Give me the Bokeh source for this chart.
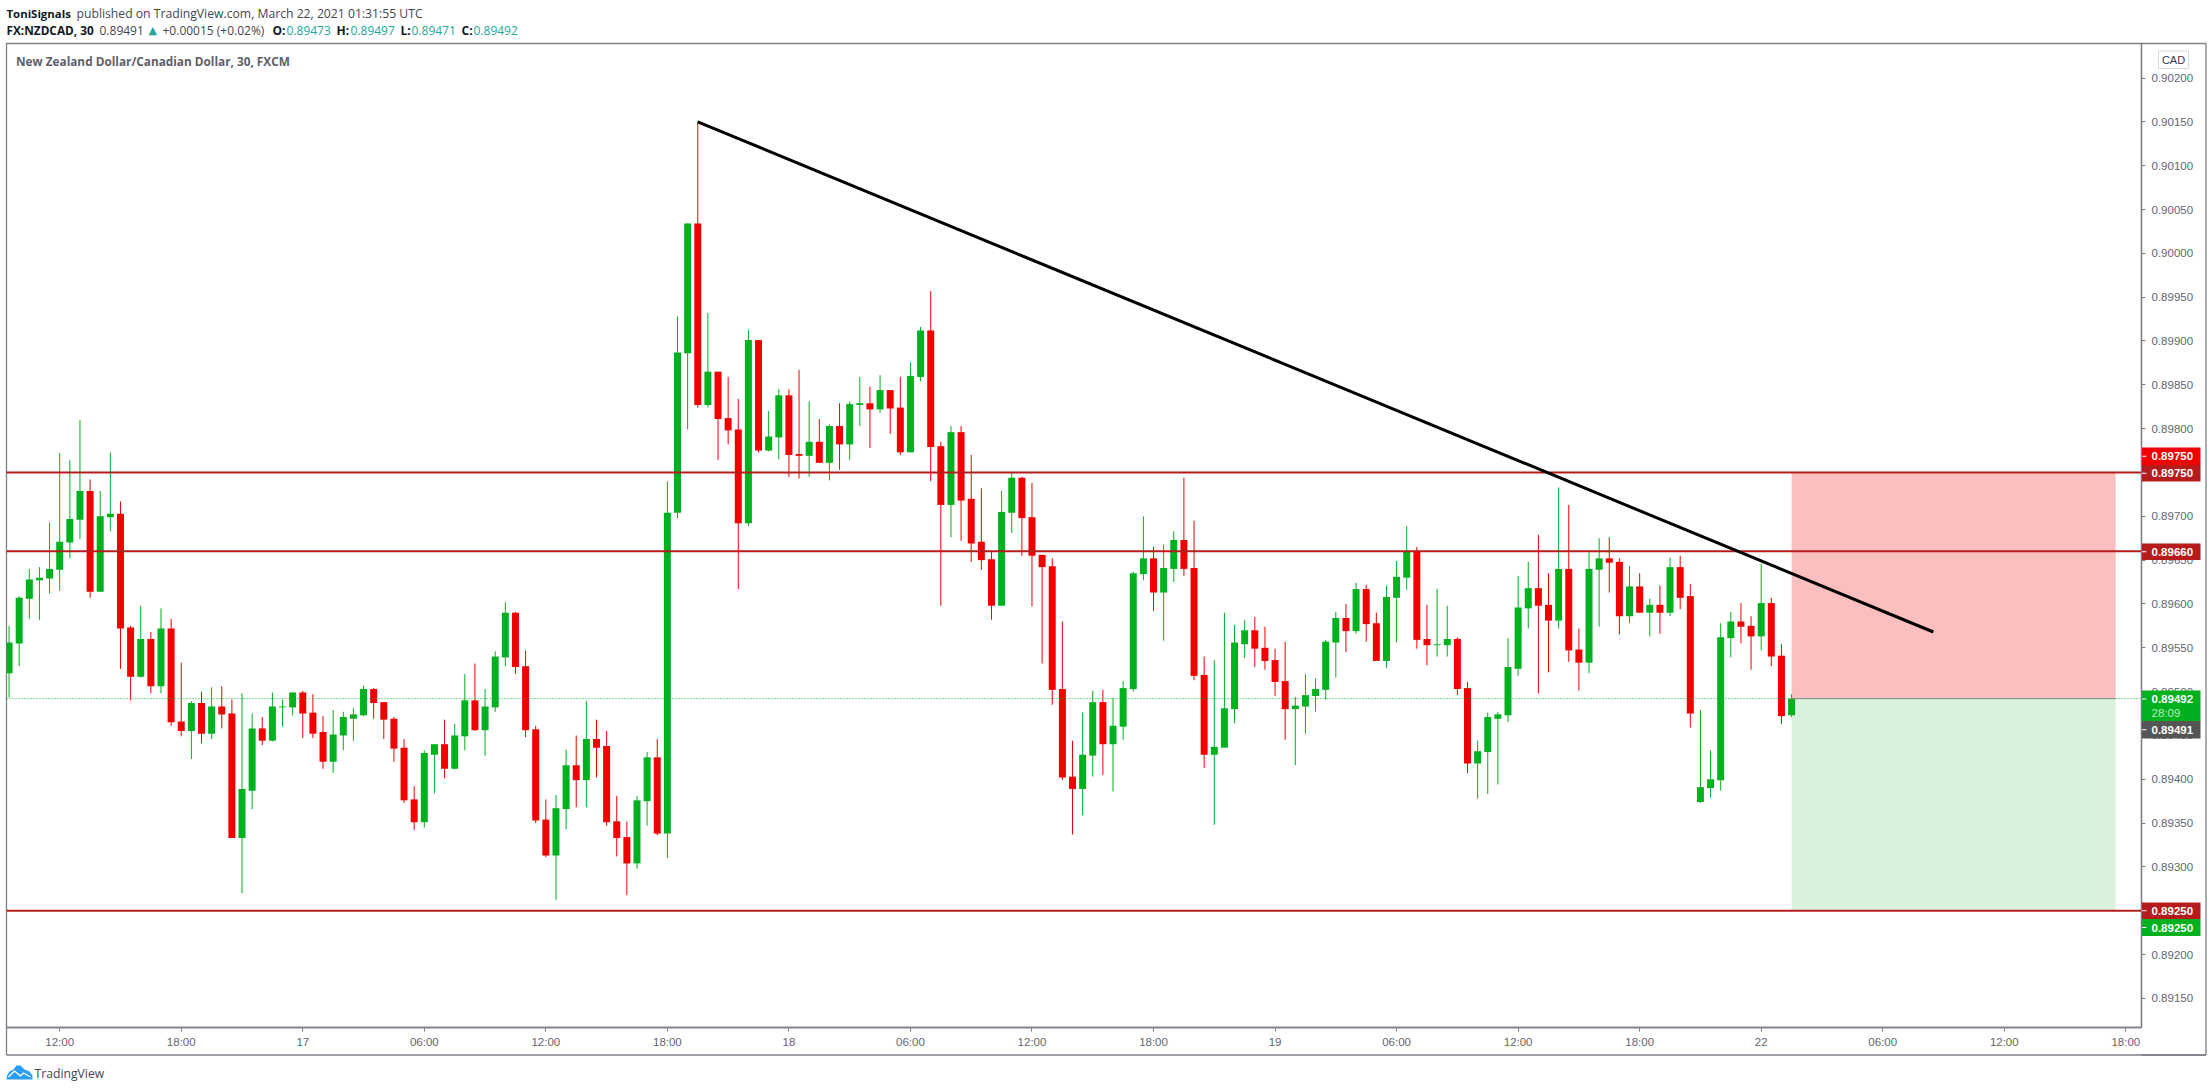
from bokeh.plotting import figure
from bokeh.layouts import column
from bokeh.models import (Range1d, LinearAxis, FixedTicker, NumeralTickFormatter, ColumnDataSource)
from bokeh.core.properties import value
from bokeh.embed import file_html
from bokeh.resources import INLINE

# ---------- data (bar index 0 = Mar 16 12:00, one bar = 30 minutes) ----------
first_bar = -5
opens = [
 0.89521,0.89555,0.89606,0.89627,0.89629,0.89639,0.89670,0.89696,0.89729,0.89614,
 0.89699,0.89703,0.89573,0.89517,0.89560,0.89506,0.89572,0.89466,0.89455,0.89487,
 0.89452,0.89483,0.89475,0.89333,0.89387,0.89458,0.89444,0.89482,0.89482,0.89499,
 0.89476,0.89454,0.89420,0.89450,0.89469,0.89473,0.89503,0.89488,0.89469,0.89436,
 0.89377,0.89351,0.89428,0.89440,0.89412,0.89449,0.89490,0.89456,0.89482,0.89539,
 0.89590,0.89529,0.89457,0.89354,0.89313,0.89366,0.89416,0.89399,0.89446,0.89438,
 0.89352,0.89334,0.89304,0.89375,0.89425,0.89338,0.89704,0.89886,0.90034,0.89827,
 0.89865,0.89812,0.89799,0.89692,0.89901,0.89775,0.89790,0.89838,0.89771,0.89769,
 0.89785,0.89761,0.89803,0.89782,0.89827,0.89829,0.89822,0.89844,0.89824,0.89773,
 0.89859,0.89912,0.89780,0.89713,0.89796,0.89720,0.89671,0.89651,0.89598,0.89704,
 0.89744,0.89699,0.89656,0.89643,0.89503,0.89403,0.89389,0.89427,0.89488,0.89440,
 0.89460,0.89503,0.89634,0.89652,0.89613,0.89640,0.89673,0.89641,0.89519,0.89428,
 0.89436,0.89480,0.89554,0.89570,0.89550,0.89536,0.89512,0.89480,0.89483,0.89495,
 0.89502,0.89556,0.89584,0.89569,0.89617,0.89578,0.89535,0.89607,0.89630,0.89660,
 0.89560,0.89553,0.89553,0.89560,0.89504,0.89418,0.89431,0.89469,0.89473,0.89526,
 0.89595,0.89618,0.89599,0.89581,0.89640,0.89548,0.89533,0.89639,0.89652,0.89648,
 0.89586,0.89620,0.89590,0.89599,0.89590,0.89642,0.89609,0.89374,0.89390,0.89399,
 0.89561,0.89580,0.89575,0.89563,0.89601,0.89541,0.89473]
closes = [
 0.89556,0.89607,0.89628,0.89630,0.89640,0.89671,0.89697,0.89729,0.89614,0.89700,
 0.89703,0.89572,0.89517,0.89560,0.89506,0.89572,0.89465,0.89455,0.89487,0.89452,
 0.89483,0.89474,0.89333,0.89389,0.89458,0.89444,0.89483,0.89483,0.89499,0.89475,
 0.89452,0.89420,0.89451,0.89471,0.89474,0.89503,0.89487,0.89468,0.89435,0.89376,
 0.89351,0.89430,0.89440,0.89412,0.89450,0.89490,0.89456,0.89483,0.89540,0.89590,
 0.89528,0.89456,0.89353,0.89313,0.89367,0.89416,0.89399,0.89446,0.89436,0.89351,
 0.89333,0.89304,0.89376,0.89425,0.89338,0.89704,0.89887,0.90034,0.89827,0.89865,
 0.89811,0.89798,0.89692,0.89901,0.89775,0.89791,0.89838,0.89770,0.89769,0.89785,
 0.89761,0.89803,0.89782,0.89828,0.89829,0.89822,0.89844,0.89823,0.89773,0.89860,
 0.89912,0.89779,0.89713,0.89796,0.89718,0.89669,0.89650,0.89598,0.89705,0.89744,
 0.89698,0.89655,0.89642,0.89502,0.89402,0.89389,0.89428,0.89488,0.89440,0.89461,
 0.89504,0.89635,0.89652,0.89613,0.89641,0.89673,0.89640,0.89518,0.89428,0.89437,
 0.89481,0.89556,0.89570,0.89549,0.89535,0.89511,0.89480,0.89484,0.89496,0.89503,
 0.89557,0.89584,0.89569,0.89617,0.89577,0.89535,0.89608,0.89631,0.89660,0.89559,
 0.89553,0.89554,0.89560,0.89503,0.89418,0.89432,0.89471,0.89474,0.89528,0.89596,
 0.89618,0.89598,0.89581,0.89640,0.89547,0.89533,0.89640,0.89652,0.89647,0.89586,
 0.89620,0.89590,0.89599,0.89590,0.89642,0.89607,0.89475,0.89391,0.89400,0.89562,
 0.89580,0.89574,0.89563,0.89601,0.89540,0.89472,0.89492]
highs = [
 0.89575,0.89609,0.89640,0.89642,0.89693,0.89772,0.89764,0.89810,0.89742,0.89729,
 0.89773,0.89717,0.89575,0.89598,0.89568,0.89595,0.89583,0.89533,0.89489,0.89500,
 0.89505,0.89506,0.89491,0.89498,0.89475,0.89471,0.89499,0.89491,0.89499,0.89501,
 0.89497,0.89472,0.89479,0.89477,0.89481,0.89507,0.89504,0.89488,0.89471,0.89446,
 0.89392,0.89433,0.89440,0.89468,0.89463,0.89520,0.89532,0.89503,0.89546,0.89602,
 0.89591,0.89547,0.89461,0.89377,0.89382,0.89434,0.89450,0.89489,0.89468,0.89455,
 0.89381,0.89352,0.89381,0.89431,0.89446,0.89740,0.89928,0.90034,0.90150,0.89932,
 0.89865,0.89859,0.89834,0.89913,0.89901,0.89820,0.89845,0.89845,0.89867,0.89831,
 0.89811,0.89805,0.89829,0.89831,0.89859,0.89848,0.89861,0.89844,0.89859,0.89876,
 0.89916,0.89957,0.89785,0.89803,0.89803,0.89770,0.89732,0.89660,0.89729,0.89751,
 0.89745,0.89738,0.89656,0.89652,0.89580,0.89444,0.89476,0.89501,0.89502,0.89493,
 0.89512,0.89637,0.89700,0.89665,0.89668,0.89683,0.89744,0.89695,0.89540,0.89536,
 0.89590,0.89576,0.89582,0.89585,0.89574,0.89549,0.89557,0.89494,0.89520,0.89515,
 0.89559,0.89591,0.89600,0.89624,0.89622,0.89590,0.89621,0.89649,0.89689,0.89665,
 0.89599,0.89617,0.89598,0.89562,0.89511,0.89444,0.89476,0.89477,0.89561,0.89632,
 0.89648,0.89679,0.89635,0.89733,0.89713,0.89572,0.89659,0.89675,0.89676,0.89652,
 0.89643,0.89635,0.89606,0.89621,0.89653,0.89655,0.89623,0.89479,0.89433,0.89578,
 0.89591,0.89601,0.89586,0.89646,0.89607,0.89554,0.89497]
lows = [
 0.89493,0.89529,0.89583,0.89582,0.89612,0.89615,0.89652,0.89674,0.89607,0.89614,
 0.89683,0.89526,0.89490,0.89516,0.89498,0.89498,0.89461,0.89449,0.89423,0.89441,
 0.89446,0.89458,0.89333,0.89270,0.89366,0.89439,0.89443,0.89460,0.89473,0.89447,
 0.89447,0.89412,0.89407,0.89433,0.89444,0.89472,0.89469,0.89446,0.89420,0.89373,
 0.89342,0.89345,0.89384,0.89401,0.89411,0.89433,0.89455,0.89427,0.89477,0.89529,
 0.89520,0.89448,0.89350,0.89311,0.89262,0.89343,0.89368,0.89368,0.89402,0.89347,
 0.89312,0.89268,0.89298,0.89347,0.89336,0.89310,0.89698,0.89799,0.89824,0.89824,
 0.89764,0.89782,0.89617,0.89689,0.89773,0.89774,0.89765,0.89745,0.89743,0.89745,
 0.89761,0.89741,0.89753,0.89764,0.89803,0.89778,0.89818,0.89794,0.89770,0.89773,
 0.89854,0.89740,0.89598,0.89676,0.89672,0.89648,0.89639,0.89582,0.89598,0.89681,
 0.89655,0.89597,0.89532,0.89485,0.89399,0.89337,0.89359,0.89403,0.89405,0.89386,
 0.89445,0.89500,0.89627,0.89592,0.89558,0.89625,0.89632,0.89513,0.89413,0.89348,
 0.89436,0.89464,0.89538,0.89528,0.89525,0.89495,0.89445,0.89416,0.89452,0.89477,
 0.89491,0.89516,0.89545,0.89566,0.89557,0.89535,0.89527,0.89556,0.89616,0.89549,
 0.89530,0.89540,0.89540,0.89496,0.89407,0.89378,0.89383,0.89394,0.89465,0.89518,
 0.89572,0.89498,0.89522,0.89572,0.89534,0.89501,0.89521,0.89574,0.89613,0.89565,
 0.89578,0.89590,0.89563,0.89566,0.89586,0.89594,0.89459,0.89373,0.89379,0.89387,
 0.89539,0.89555,0.89525,0.89547,0.89529,0.89463,0.89471]

level_lines = [0.89750, 0.89660, 0.89250]
last_price = 0.89492
trend_x = [63, 185]
trend_y = [0.90150, 0.89568]
position_x = [171, 203]
position_stop = 0.89750
position_target = 0.89250

price_ticks = [0.89150,0.89200,0.89250,0.89300,0.89350,0.89400,0.89450,0.89500,0.89550,0.89600,
               0.89650,0.89700,0.89750,0.89800,0.89850,0.89900,0.89950,0.90000,0.90050,0.90100,
               0.90150,0.90200]
time_ticks = [0,12,24,36,48,60,72,84,96,108,120,132,144,156,168,180,192,204]
time_labels = ["12:00","18:00","17","06:00","12:00","18:00","18","06:00","12:00","18:00","19",
               "06:00","12:00","18:00","22","06:00","12:00","18:00"]

# ---------- styles ----------
UP = "#00b11f"; DOWN = "#f20000"; LEVEL = "#b71c1c"
FRAME = "#7d7f88"; AXIS_TEXT = "#62656f"; TEAL = "#26a69a"; DARK = "#363a45"
UI_FONT = "Open Sans"
TAG_FONT = "Liberation Sans"

W, H = 2212, 1091
F_L, F_T, F_R, F_B = 6, 43, 2141, 1027

p = figure(width=W, height=H, output_backend="svg", toolbar_location=None,
           x_range=Range1d(-5.253, 205.55), y_range=Range1d(0.891168, 0.902394),
           x_axis_type=None, y_axis_type=None,
           min_border_left=F_L, min_border_top=F_T, min_border_right=W-F_R, min_border_bottom=H-F_B,
           outline_line_color=FRAME, outline_line_width=1.3,
           background_fill_color="white", border_fill_color="white", frame_align=False)
p.grid.visible = False

# ---------- position zones ----------
zone_l, zone_r = position_x
p.quad(left=[zone_l], right=[zone_r], bottom=[last_price], top=[position_stop],
       fill_color="#fcbfbf", line_color=None)
p.quad(left=[zone_l], right=[zone_r], bottom=[position_target], top=[last_price],
       fill_color="#daf2dc", line_color=None)

# ---------- candles ----------
bars = list(range(first_bar, first_bar + len(opens)))
up = [i for i in range(len(opens)) if closes[i] >= opens[i]]
dn = [i for i in range(len(opens)) if closes[i] < opens[i]]
for idx, col in ((up, UP), (dn, DOWN)):
    src = ColumnDataSource(dict(
        x=[bars[i] for i in idx],
        o=[opens[i] for i in idx], c=[closes[i] for i in idx],
        h=[highs[i] for i in idx], l=[lows[i] for i in idx],
        top=[max(opens[i], closes[i]) for i in idx],
        bot=[min(opens[i], closes[i]) for i in idx]))
    p.segment("x", "h", "x", "l", source=src, line_color=col, line_width=1)
    p.vbar("x", 0.69, "top", "bot", source=src, fill_color=col, line_color=None)

# ---------- dotted last price, levels, trend ----------
x0, x1 = p.x_range.start, p.x_range.end
p.segment([x0], [last_price], [x1], [last_price], line_color=UP, line_width=1, line_dash="1 2")
p.segment([zone_l], [last_price], [zone_r], [last_price], line_color="#8a8a8a", line_width=1)
p.segment([x0]*3, level_lines, [x1]*3, level_lines, line_color=LEVEL, line_width=2)
p.line(trend_x, trend_y, line_color="black", line_width=3)

# ---------- axes ----------
ry = LinearAxis(ticker=FixedTicker(ticks=price_ticks), formatter=NumeralTickFormatter(format="0.00000"))
ry.axis_line_color = FRAME; ry.axis_line_width = 1.3
ry.major_tick_line_color = FRAME; ry.major_tick_out = 4; ry.major_tick_in = 0
ry.minor_tick_line_color = None
ry.major_label_standoff = 6
ry.major_label_text_color = AXIS_TEXT; ry.major_label_text_font = TAG_FONT
ry.major_label_text_font_size = "11.5px"
p.add_layout(ry, "right")

bx = LinearAxis(ticker=FixedTicker(ticks=time_ticks),
                major_label_overrides=dict(zip(time_ticks, time_labels)))
bx.axis_line_color = FRAME; bx.axis_line_width = 1.3
bx.major_tick_line_color = FRAME; bx.major_tick_out = 4; bx.major_tick_in = 0
bx.minor_tick_line_color = None
bx.major_label_standoff = 4
bx.major_label_text_color = AXIS_TEXT; bx.major_label_text_font = TAG_FONT
bx.major_label_text_font_size = "11.5px"
p.add_layout(bx, "below")

# ---------- transparent overlay for the page furniture, in page pixels ----------
ov = figure(width=W, height=H, output_backend="svg", toolbar_location=None,
            x_range=Range1d(0, W), y_range=Range1d(H, 0),
            x_axis_type=None, y_axis_type=None,
            min_border_left=0, min_border_top=0, min_border_right=0, min_border_bottom=0,
            outline_line_color=None, background_fill_color=None, border_fill_color=None,
            margin=(-H, 0, 0, 0), frame_align=False)
ov.grid.visible = False

def label(text, x, y, color=DARK, size="12px", style="normal", font=UI_FONT, align="left"):
    ov.text([x], [y], text=[text], text_color=color, text_font=value(font),
            text_font_size=value(size), text_font_style=style,
            text_align=align, text_baseline="middle")

def box(l, r, t, b, fill, line=None):
    ov.quad(left=[l], right=[r], top=[t], bottom=[b], fill_color=fill, line_color=line)

# outer frame
ov.segment([F_R, 2205.5, F_L, F_R], [1054.5, 43, 1054.5, 43], [2205.5, 2205.5, 2205.5, 2205.5],
           [1054.5, 1054.5, 1054.5, 43], line_color=FRAME, line_width=1.3)
ov.segment([F_L], [F_B], [F_L], [1054.5], line_color=FRAME, line_width=1.3)

# price tags
tags = [("0.89750", 447, 464.5, "#f20000"), ("0.89750", 464.5, 481, LEVEL),
        ("0.89660", 543, 559.5, LEVEL), ("0.89492", 690, 720.5, UP),
        ("0.89491", 720.5, 738, "#555555"), ("0.89250", 902, 918.5, LEVEL),
        ("0.89250", 918.5, 935.5, UP)]
for txt, t, b, col in tags:
    box(F_R + 0.5, 2200, t, b, col)
    yc = (t + b) / 2 if b - t < 20 else t + 8.5
    box(F_R + 0.5, F_R + 5, yc - 0.5, yc + 0.5, "white")
    label(txt, 2151, yc, "white", "11.5px", "bold", TAG_FONT)
label("28:09", 2151, 712, "#b5ecbf", "11.5px", "normal", TAG_FONT)

# CAD button
box(2158, 2188, 50.5, 68, "white", "#d6d8e0")
label("CAD", 2173, 59, DARK, "11px", "normal", TAG_FONT, "center")

# header lines
label("ToniSignals", 6, 12.5, "#131722", "11.4px", "bold")
label("published on TradingView.com, March 22, 2021 01:31:55 UTC", 76, 12.5, "#434651", "12.2px")
label("FX:NZDCAD, 30", 6, 29.6, "#131722", "11.8px", "bold")
label("0.89491", 99, 29.6, "#434651", "12px")
label("\u25b2", 148, 29.6, TEAL, "11px", "normal", "DejaVu Sans")
label("+0.00015 (+0.02%)", 162, 29.6, "#434651", "12px")
for name, nx, val, vx in (("O:", 272, "0.89473", 286), ("H:", 336, "0.89497", 350),
                          ("L:", 400, "0.89471", 411), ("C:", 461, "0.89492", 473)):
    label(name, nx, 29.6, "#131722", "12px", "bold")
    label(val, vx, 29.6, TEAL, "12px")
label("New Zealand Dollar/Canadian Dollar, 30, FXCM", 15.5, 60.6, "#5d606b", "11.8px", "bold")

# TradingView mark
ov.patch([6, 6.5, 9, 13, 16, 20, 24, 29, 32, 32], [1079, 1075, 1071, 1069, 1065, 1065, 1069, 1071, 1075, 1079],
         fill_color="#2a9df4", line_color=None)
ov.line([8, 14, 20, 23, 30], [1076.5, 1070.5, 1075.5, 1072.5, 1076.5], line_color="white", line_width=1.3)
label("TradingView", 34, 1073, "#434651", "12.2px")

open("out.html", "w").write(file_html(column(p, ov), INLINE))
